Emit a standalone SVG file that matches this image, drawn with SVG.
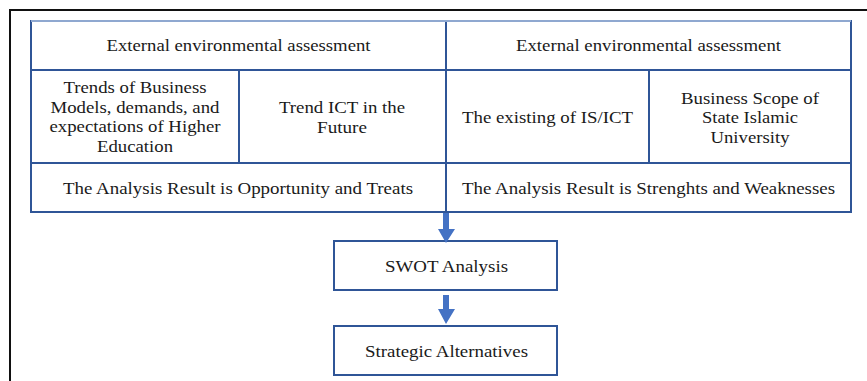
<svg xmlns="http://www.w3.org/2000/svg" width="867" height="381" viewBox="0 0 867 381">
<style>
.cell{fill:#fff;stroke:#2F5597;stroke-width:2}
.t{font-family:"Liberation Serif","Times New Roman",serif;font-size:17px;fill:#1a1a1a;text-anchor:middle}
.arr{fill:#4472C4}
</style>
<rect width="867" height="381" fill="#fff"/>
<g id="frame">
<path d="M10,381 V10 H867" fill="none" stroke="#111" stroke-width="2"/>
</g>
<g id="ext-left-header">
<rect class="cell" x="31" y="21" width="415" height="49"/>
<text class="t" x="238.5" y="51" textLength="264" lengthAdjust="spacingAndGlyphs">External environmental assessment</text>
</g>
<g id="ext-right-header">
<rect class="cell" x="446" y="21" width="405" height="49"/>
<text class="t" x="648.5" y="51" textLength="265" lengthAdjust="spacingAndGlyphs">External environmental assessment</text>
</g>
<g id="trends">
<rect class="cell" x="31" y="70" width="208" height="93"/>
<text class="t" x="135" y="93" textLength="143" lengthAdjust="spacingAndGlyphs">Trends of Business</text>
<text class="t" x="135" y="112.5" textLength="169" lengthAdjust="spacingAndGlyphs">Models, demands, and</text>
<text class="t" x="135" y="132" textLength="171" lengthAdjust="spacingAndGlyphs">expectations of Higher</text>
<text class="t" x="135" y="151.5" textLength="76" lengthAdjust="spacingAndGlyphs">Education</text>
</g>
<g id="trend-ict">
<rect class="cell" x="239" y="70" width="207" height="93"/>
<text class="t" x="342" y="113" textLength="126" lengthAdjust="spacingAndGlyphs">Trend ICT in the</text>
<text class="t" x="342" y="132.5" textLength="50" lengthAdjust="spacingAndGlyphs">Future</text>
</g>
<g id="existing">
<rect class="cell" x="446" y="70" width="203" height="93"/>
<text class="t" x="547.5" y="123" textLength="171" lengthAdjust="spacingAndGlyphs">The existing of IS/ICT</text>
</g>
<g id="scope">
<rect class="cell" x="649" y="70" width="202" height="93"/>
<text class="t" x="750" y="103.5" textLength="138" lengthAdjust="spacingAndGlyphs">Business Scope of</text>
<text class="t" x="750" y="123" textLength="96" lengthAdjust="spacingAndGlyphs">State Islamic</text>
<text class="t" x="750" y="142.5" textLength="79" lengthAdjust="spacingAndGlyphs">University</text>
</g>
<g id="result-ot">
<rect class="cell" x="31" y="163" width="415" height="49"/>
<text class="t" x="238" y="194" textLength="350" lengthAdjust="spacingAndGlyphs">The Analysis Result is Opportunity and Treats</text>
</g>
<g id="result-sw">
<rect class="cell" x="446" y="163" width="405" height="49"/>
<text class="t" x="648.5" y="194" textLength="373" lengthAdjust="spacingAndGlyphs">The Analysis Result is Strenghts and Weaknesses</text>
</g>
<path d="M31,21 H851" stroke="#8FA8D0" stroke-width="2"/>
<g id="swot">
<rect class="cell" x="334" y="241" width="223" height="49"/>
<text class="t" x="446.5" y="272" textLength="123" lengthAdjust="spacingAndGlyphs">SWOT Analysis</text>
</g>
<g id="strategic">
<rect class="cell" x="334" y="326" width="223" height="49"/>
<text class="t" x="446.5" y="357" textLength="163" lengthAdjust="spacingAndGlyphs">Strategic Alternatives</text>
</g>
<g id="connectors">
<path class="arr" d="M443,213 H449 V229 H455 L446,243 L438,229 H443 Z"/>
<path class="arr" d="M443,295 H449 V309 H455 L446,324 L438,309 H443 Z"/>
</g>
</svg>
